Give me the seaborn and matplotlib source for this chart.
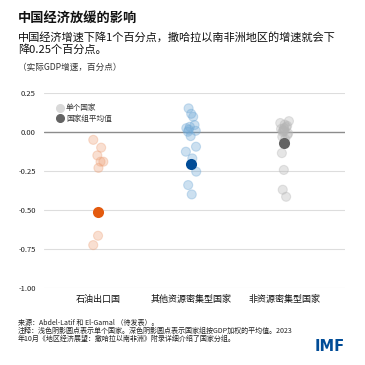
import numpy as np
import pandas as pd
import matplotlib
matplotlib.use("Agg")
import matplotlib.pyplot as plt
import seaborn as sns
from matplotlib.lines import Line2D

np.random.seed(7)

categories = ["石油出口国", "其他资源密集型国家", "非资源密集型国家"]

oil_values = [-0.05, -0.10, -0.15, -0.19, -0.19, -0.23, -0.665, -0.725]
other_values = [0.152, 0.117, 0.098, 0.045, 0.034, 0.025, 0.015, 0.008, 0.002,
                -0.026, -0.094, -0.126, -0.169, -0.254, -0.34, -0.40]
nonres_values = [0.07, 0.058, 0.048, 0.04, 0.032, 0.025, 0.02, 0.015, 0.01, 0.005,
                 0.0, -0.008, -0.018, -0.03, -0.045, -0.135, -0.243, -0.37, -0.415]
group_means = [-0.515, -0.207, -0.07]

light_colors = ["#eea47c", "#6fa8d6", "#b5b5b5"]
dark_colors = ["#e35a0e", "#004c97", "#636363"]

rows = []
for cat, vals in zip(categories, [oil_values, other_values, nonres_values]):
    for v in vals:
        rows.append({"group": cat, "value": v})
df = pd.DataFrame(rows)
mean_df = pd.DataFrame({"group": categories, "value": group_means})

sns.set_style("white")
plt.rcParams["font.family"] = ["Noto Sans CJK SC", "DejaVu Sans"]

fig = plt.figure(figsize=(3.65, 3.65), dpi=100)
ax = fig.add_axes([0.1205, 0.211, 0.8245, 0.534])

for y in [0.25, -0.25, -0.5, -0.75, -1.0]:
    ax.axhline(y, color="#dddddd", lw=0.8, zorder=0)
ax.axhline(0, color="#8c8c8c", lw=1.0, zorder=0)

sns.stripplot(data=df, x="group", y="value", hue="group", order=categories,
              hue_order=categories, palette=light_colors, jitter=0.06, size=6.5,
              alpha=0.35, linewidth=0.8, edgecolor="face", legend=False, ax=ax,
              zorder=2)
sns.stripplot(data=mean_df, x="group", y="value", hue="group", order=categories,
              hue_order=categories, palette=dark_colors, jitter=False, size=8,
              linewidth=0, legend=False, ax=ax, zorder=3)

ax.set_ylim(-1.0, 0.25)
ax.set_xlim(-0.58, 2.65)
ax.set_yticks([0.25, 0.0, -0.25, -0.5, -0.75, -1.0])
ax.set_yticklabels(["0.25", "0.00", "-0.25", "-0.50", "-0.75", "-1.00"])
ax.set_xlabel("")
ax.set_ylabel("")
for s in ax.spines.values():
    s.set_visible(False)
ax.tick_params(axis="y", length=0, labelsize=5.5, pad=6, labelcolor="#222222")
ax.tick_params(axis="x", length=3, width=0.6, color="#999999", labelsize=6.5,
               pad=2, labelcolor="#111111")

handles = [
    Line2D([], [], marker="o", ls="", markersize=5.5, color="#d9d9d9"),
    Line2D([], [], marker="o", ls="", markersize=5.5, color="#636363"),
]
ax.legend(handles, ["单个国家", "国家组平均值"], loc="upper left",
          bbox_to_anchor=(0.02, 0.97), frameon=False, fontsize=5.5,
          handletextpad=0.2, labelspacing=0.35, borderpad=0.2, handlelength=1.2,
          labelcolor="#333333")

fig.text(0.049, 0.951, "中国经济放缓的影响", fontsize=9.5, fontweight="bold",
         va="center", color="#111111")
fig.text(0.049, 0.899, "中国经济增速下降1个百分点，撒哈拉以南非洲地区的增速就会下",
         fontsize=8.05, va="center", color="#111111")
fig.text(0.049, 0.863, "降0.25个百分点。", fontsize=8.05, va="center", color="#111111")
fig.text(0.049, 0.815, "（实际GDP增速，百分点）", fontsize=6.2, va="center",
         color="#333333")

fig.text(0.049, 0.115, "来源：Abdel-Latif 和 El-Gamal （待发表）。", fontsize=5.05,
         va="center", color="#222222")
fig.text(0.049, 0.093, "注释：浅色阴影圆点表示单个国家。深色阴影圆点表示国家组按GDP加权的平均值。2023",
         fontsize=5.05, va="center", color="#222222")
fig.text(0.049, 0.072, "年10月《地区经济展望：撒哈拉以南非洲》附录详细介绍了国家分组。",
         fontsize=5.05, va="center", color="#222222")
fig.text(0.945, 0.052, "IMF", fontsize=10.5, fontweight="bold", ha="right",
         va="center", color="#004c97", family="DejaVu Sans")

fig.savefig("out.png", dpi=100, facecolor="white")
